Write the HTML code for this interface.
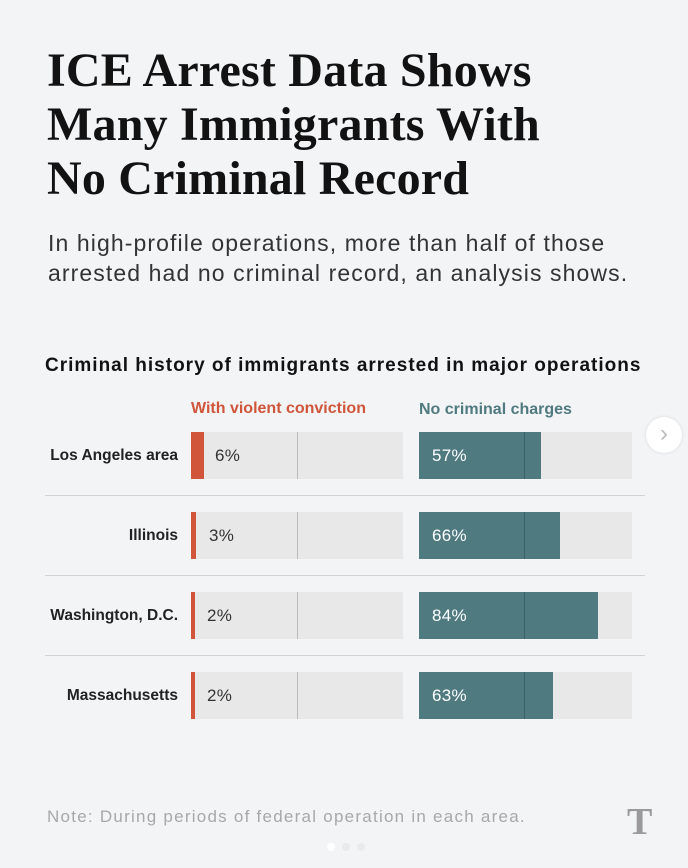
<!DOCTYPE html>
<html><head><meta charset="utf-8"><style>
*{margin:0;padding:0;box-sizing:border-box}
body{width:688px;height:868px;background:#f3f4f6;font-family:"Liberation Sans",sans-serif;position:relative;overflow:hidden}
.a{position:absolute;white-space:nowrap}
h1{position:absolute;left:47px;top:44px;font-family:"Liberation Serif",serif;font-weight:bold;font-size:48px;line-height:54px;color:#121212;letter-spacing:0.2px;white-space:nowrap}
.sub{left:48px;top:228px;font-size:23px;line-height:30px;color:#333;letter-spacing:1.1px}
.ct{left:45px;top:355px;font-size:19px;font-weight:bold;color:#121212;letter-spacing:1px}
.lab{font-size:15.5px;font-weight:bold;color:#222;text-align:right;width:178px;left:0px}
.bg{background:#e8e8e8;height:47px}
.mid{width:1px;height:47px;background:#bbb}
.pct{font-size:17px;letter-spacing:0.3px}
.sep{left:45px;width:600px;height:1px;background:#d4d4d4}
</style></head><body>
<h1>ICE Arrest Data Shows<br>Many Immigrants With<br>No Criminal Record</h1>
<div class="a sub">In high-profile operations, more than half of those<br>arrested had no criminal record, an analysis shows.</div>
<div class="a ct">Criminal history of immigrants arrested in major operations</div>
<div class="a" style="left:191px;top:400px;font-size:16px;font-weight:bold;color:#d0553a">With violent conviction</div>
<div class="a" style="left:419px;top:401px;font-size:16px;font-weight:bold;color:#4f7a80">No criminal charges</div>
<div class="a" style="left:646px;top:417px;width:36px;height:36px;border-radius:50%;background:#fff;box-shadow:0 0 3px rgba(0,0,0,.12);color:#bbb;font-size:24px;text-align:center;line-height:34px">&#8250;</div>
<div id="rows"></div>
<script>
const rows=[["Los Angeles area",6,13,57,122],["Illinois",3,5,66,141],["Washington, D.C.",2,4,84,179],["Massachusetts",2,4,63,134]];
let h="";
rows.forEach((r,i)=>{const y=432+i*80;
h+=`<div class="a lab" style="top:${y+15}px">${r[0]}</div>
<div class="a bg" style="left:191px;top:${y}px;width:212px"></div>
<div class="a mid" style="left:297px;top:${y}px"></div>
<div class="a" style="left:191px;top:${y}px;width:${r[2]}px;height:47px;background:#d0553a"></div>
<div class="a pct" style="left:${r[2]>6?215:(r[2]>4?209:207)}px;top:${y+14}px;color:#333">${r[1]}%</div>
<div class="a bg" style="left:419px;top:${y}px;width:213px"></div>
<div class="a" style="left:419px;top:${y}px;width:${r[4]}px;height:47px;background:#4f7a80"></div>
<div class="a" style="left:524px;top:${y}px;width:1px;height:47px;background:#3c6268"></div>
<div class="a pct" style="left:432px;top:${y+14}px;color:#fff">${r[3]}%</div>`;
if(i<3)h+=`<div class="a sep" style="top:${y+63}px"></div>`;});
document.getElementById("rows").innerHTML=h;
</script>
<div class="a" style="left:47px;top:807px;font-size:17px;color:#a8a8a8;letter-spacing:1.25px">Note: During periods of federal operation in each area.</div>
<div class="a" style="left:627px;top:800px;font-family:'Liberation Serif',serif;font-weight:bold;font-size:38px;color:#9a9a9a">T</div>
<div class="a" style="left:327px;top:843px;width:8px;height:8px;border-radius:50%;background:#fff"></div>
<div class="a" style="left:342px;top:843px;width:8px;height:8px;border-radius:50%;background:#eaeaec"></div>
<div class="a" style="left:357px;top:843px;width:8px;height:8px;border-radius:50%;background:#eaeaec"></div>
</body></html>
